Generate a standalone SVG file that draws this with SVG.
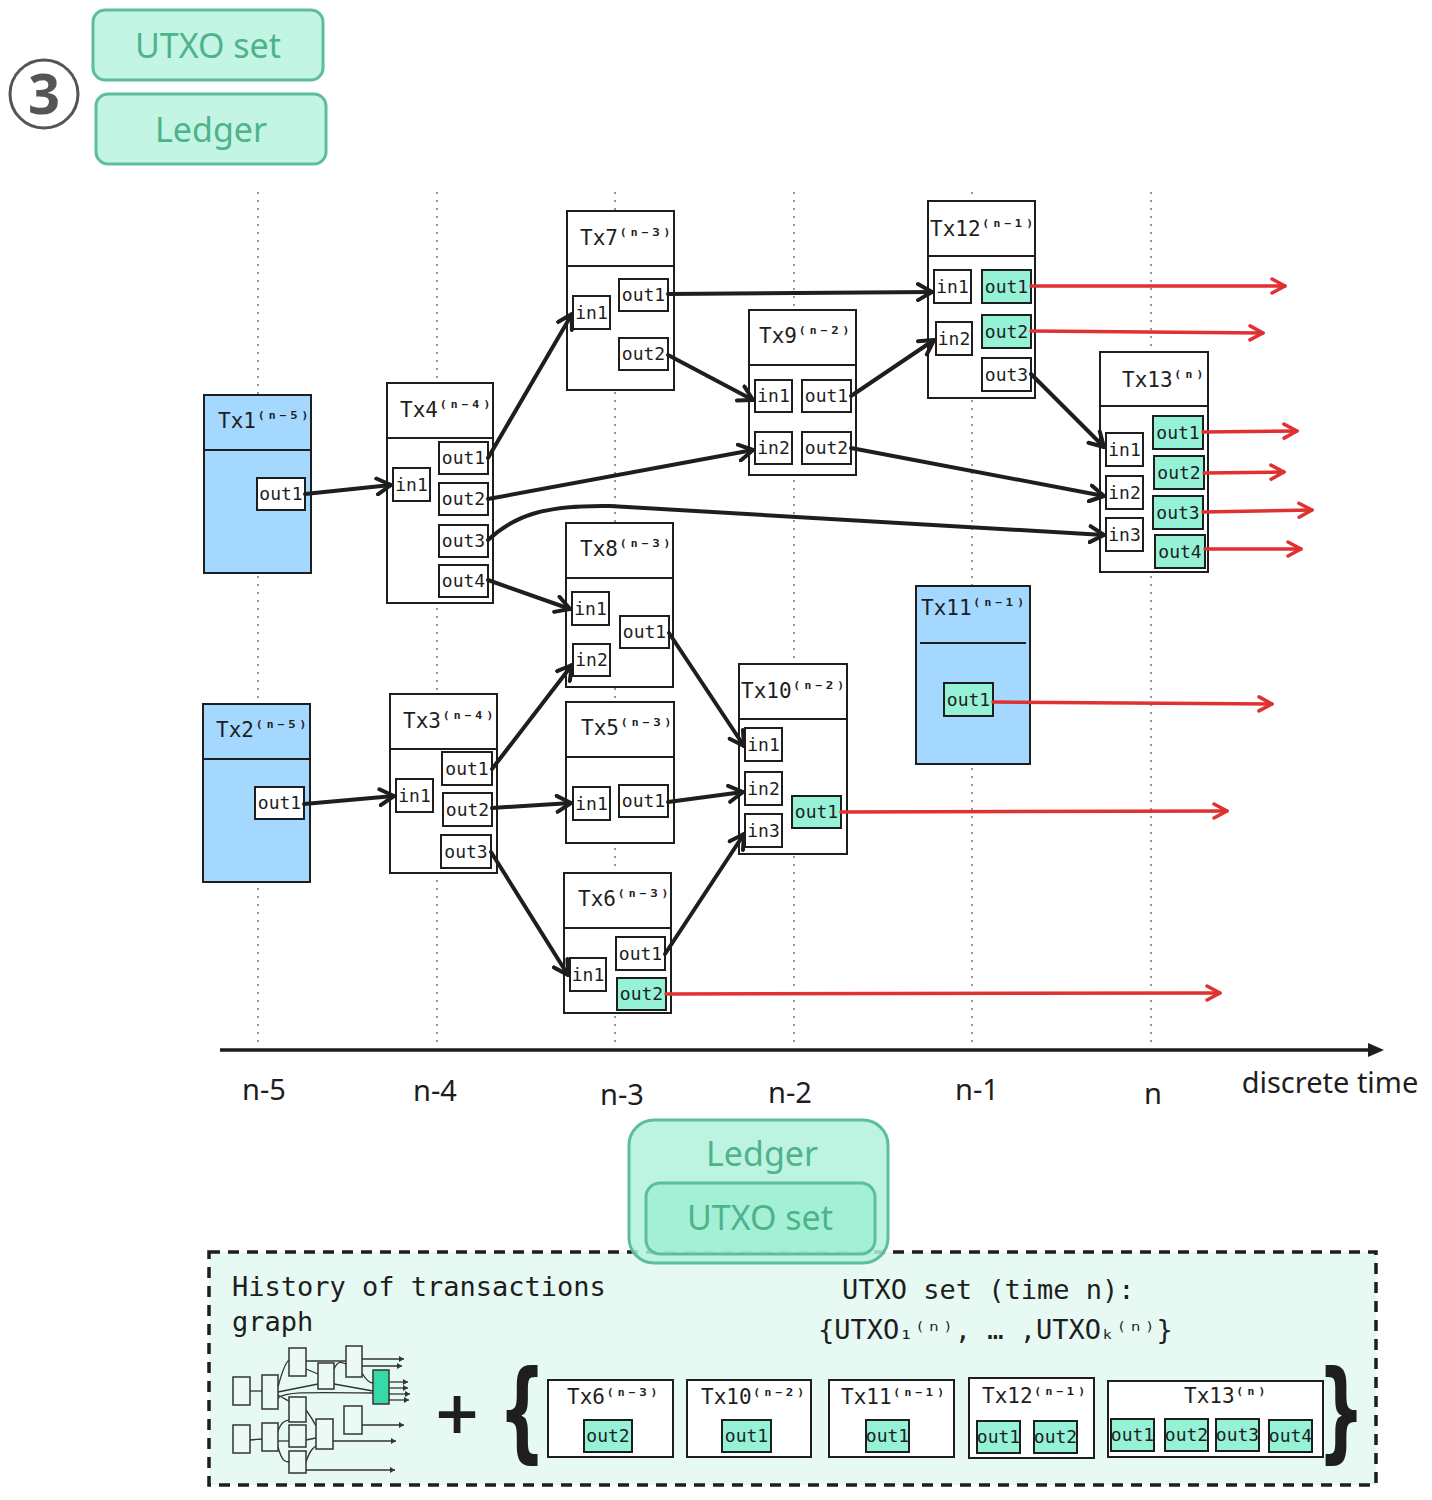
<svg xmlns="http://www.w3.org/2000/svg" width="1432" height="1500" viewBox="0 0 1432 1500">
<style>
.tx{fill:#ffffff;stroke:#1e1e1e;stroke-width:2}
.blue{fill:#a5d8ff;stroke:#1e1e1e;stroke-width:2}
.div{stroke:#1e1e1e;stroke-width:2}
.port{fill:#ffffff;stroke:#1e1e1e;stroke-width:2}
.green{fill:#96f2d7;stroke:#1e1e1e;stroke-width:2}
.ttl{font-family:"DejaVu Sans Mono",monospace;font-size:21px;fill:#1e1e1e}
.sup{font-size:18px;font-weight:bold}
.pl{font-family:"DejaVu Sans Mono",monospace;font-size:18px;fill:#1e1e1e;text-anchor:middle}
.wire{fill:none;stroke:#1e1e1e;stroke-width:4;stroke-linecap:round}
.red{fill:none;stroke:#e03131;stroke-width:3.5;stroke-linecap:round}
.grid{stroke:#777;stroke-width:1.5;stroke-dasharray:2 6}
.hand{font-family:"Noto Sans",sans-serif;fill:#4fb38a;text-anchor:middle}
.axl{font-family:"Noto Sans",sans-serif;font-size:29px;fill:#1e1e1e;text-anchor:middle}
.big{font-family:"DejaVu Sans Mono",monospace;font-size:27px;fill:#1e1e1e}
.mini{fill:#ebfaf4;stroke:#333;stroke-width:1.5}
.ml{fill:none;stroke:#333;stroke-width:1.3}
.brace{font-family:"DejaVu Sans",sans-serif;font-size:108px;font-weight:bold;fill:#1e1e1e;text-anchor:middle}
</style>
<defs>
<marker id="ab" viewBox="-16 -10 18 20" refX="0" refY="0" markerWidth="18" markerHeight="20" markerUnits="userSpaceOnUse" orient="auto">
<path d="M-14,-8 L0,0 L-14,8" fill="none" stroke="#1e1e1e" stroke-width="4" stroke-linecap="round" stroke-linejoin="round"/>
</marker>
<marker id="ar" viewBox="-16 -10 18 20" refX="0" refY="0" markerWidth="18" markerHeight="20" markerUnits="userSpaceOnUse" orient="auto">
<path d="M-13,-7 L0,0 L-13,7" fill="none" stroke="#e03131" stroke-width="3.5" stroke-linecap="round" stroke-linejoin="round"/>
</marker>
<marker id="am" viewBox="-6 -4 7 8" refX="0" refY="0" markerWidth="7" markerHeight="8" markerUnits="userSpaceOnUse" orient="auto">
<path d="M-5,-3 L0,0 L-5,3 Z" fill="#333"/>
</marker>
</defs>

<!-- time grid -->
<g id="grid">
<line class="grid" x1="258" y1="192" x2="258" y2="1048"/>
<line class="grid" x1="437" y1="192" x2="437" y2="1048"/>
<line class="grid" x1="615" y1="192" x2="615" y2="1048"/>
<line class="grid" x1="794" y1="192" x2="794" y2="1048"/>
<line class="grid" x1="972" y1="192" x2="972" y2="1048"/>
<line class="grid" x1="1151" y1="192" x2="1151" y2="1048"/>
</g>

<!-- legend top-left -->
<g id="step3">
<circle cx="44" cy="94" r="34" fill="none" stroke="#555" stroke-width="3"/>
<text x="44" y="114" font-family="Noto Sans,sans-serif" font-size="56" font-weight="bold" fill="#555" text-anchor="middle">3</text>
</g>
<g id="legend-utxo">
<rect x="93" y="10" width="230" height="70" rx="12" fill="#c3f5e5" stroke="#5cbf99" stroke-width="3"/>
<text class="hand" x="208" y="58" font-size="34">UTXO set</text>
</g>
<g id="legend-ledger">
<rect x="96" y="94" width="230" height="70" rx="12" fill="#c3f5e5" stroke="#5cbf99" stroke-width="3"/>
<text class="hand" x="211" y="142" font-size="34">Ledger</text>
</g>

<!-- axis -->
<g id="axis">
<line x1="220" y1="1050" x2="1378" y2="1050" stroke="#1e1e1e" stroke-width="3.5"/>
<path d="M1368,1043 L1384,1050 L1368,1057 Z" fill="#1e1e1e"/>
<text class="axl" x="264" y="1100">n-5</text>
<text class="axl" x="435" y="1101">n-4</text>
<text class="axl" x="622" y="1105">n-3</text>
<text class="axl" x="790" y="1103">n-2</text>
<text class="axl" x="977" y="1100">n-1</text>
<text class="axl" x="1153" y="1104" font-size="50">n</text>
<text class="axl" x="1330" y="1093" font-size="26">discrete time</text>
</g>

<!-- Tx1 -->
<g id="tx1">
<rect class="blue" x="204" y="395" width="107" height="178"/>
<line class="div" x1="204" y1="450" x2="311" y2="450"/>
<text class="ttl" x="218" y="428">Tx1<tspan class="sup" dy="-3">⁽ⁿ⁻⁵⁾</tspan></text>
<rect class="port" x="257" y="478" width="48" height="32"/><text class="pl" x="281" y="500">out1</text>
</g>
<!-- Tx2 -->
<g id="tx2">
<rect class="blue" x="203" y="704" width="107" height="178"/>
<line class="div" x1="203" y1="759" x2="310" y2="759"/>
<text class="ttl" x="216" y="737">Tx2<tspan class="sup" dy="-3">⁽ⁿ⁻⁵⁾</tspan></text>
<rect class="port" x="255" y="787" width="49" height="32"/><text class="pl" x="279.5" y="809">out1</text>
</g>
<!-- Tx4 -->
<g id="tx4">
<rect class="tx" x="387" y="383" width="106" height="220"/>
<line class="div" x1="387" y1="438" x2="493" y2="438"/>
<text class="ttl" x="400" y="417">Tx4<tspan class="sup" dy="-3">⁽ⁿ⁻⁴⁾</tspan></text>
<rect class="port" x="393" y="468" width="37" height="33"/><text class="pl" x="411.5" y="491">in1</text>
<rect class="port" x="439" y="442" width="49" height="32"/><text class="pl" x="463.5" y="464">out1</text>
<rect class="port" x="439" y="483" width="49" height="32"/><text class="pl" x="463.5" y="505">out2</text>
<rect class="port" x="439" y="525" width="49" height="32"/><text class="pl" x="463.5" y="547">out3</text>
<rect class="port" x="439" y="565" width="49" height="32"/><text class="pl" x="463.5" y="587">out4</text>
</g>
<!-- Tx3 -->
<g id="tx3">
<rect class="tx" x="390" y="694" width="107" height="179"/>
<line class="div" x1="390" y1="749" x2="497" y2="749"/>
<text class="ttl" x="403" y="728">Tx3<tspan class="sup" dy="-3">⁽ⁿ⁻⁴⁾</tspan></text>
<rect class="port" x="396" y="779" width="37" height="33"/><text class="pl" x="414.5" y="802">in1</text>
<rect class="port" x="442" y="752" width="50" height="33"/><text class="pl" x="467" y="775">out1</text>
<rect class="port" x="443" y="793" width="49" height="33"/><text class="pl" x="467.5" y="816">out2</text>
<rect class="port" x="441" y="835" width="50" height="33"/><text class="pl" x="466" y="858">out3</text>
</g>
<!-- Tx7 -->
<g id="tx7">
<rect class="tx" x="567" y="211" width="107" height="179"/>
<line class="div" x1="567" y1="266" x2="674" y2="266"/>
<text class="ttl" x="580" y="245">Tx7<tspan class="sup" dy="-3">⁽ⁿ⁻³⁾</tspan></text>
<rect class="port" x="573" y="296" width="37" height="33"/><text class="pl" x="591.5" y="319">in1</text>
<rect class="port" x="619" y="279" width="49" height="32"/><text class="pl" x="643.5" y="301">out1</text>
<rect class="port" x="619" y="338" width="49" height="32"/><text class="pl" x="643.5" y="360">out2</text>
</g>
<!-- Tx8 -->
<g id="tx8">
<rect class="tx" x="566" y="523" width="107" height="164"/>
<line class="div" x1="566" y1="578" x2="673" y2="578"/>
<text class="ttl" x="580" y="556">Tx8<tspan class="sup" dy="-3">⁽ⁿ⁻³⁾</tspan></text>
<rect class="port" x="572" y="592" width="37" height="33"/><text class="pl" x="590.5" y="615">in1</text>
<rect class="port" x="573" y="644" width="37" height="32"/><text class="pl" x="591.5" y="666">in2</text>
<rect class="port" x="620" y="616" width="49" height="32"/><text class="pl" x="644.5" y="638">out1</text>
</g>
<!-- Tx5 -->
<g id="tx5">
<rect class="tx" x="566" y="702" width="108" height="141"/>
<line class="div" x1="566" y1="757" x2="674" y2="757"/>
<text class="ttl" x="581" y="735">Tx5<tspan class="sup" dy="-3">⁽ⁿ⁻³⁾</tspan></text>
<rect class="port" x="573" y="787" width="37" height="33"/><text class="pl" x="591.5" y="810">in1</text>
<rect class="port" x="619" y="785" width="49" height="32"/><text class="pl" x="643.5" y="807">out1</text>
</g>
<!-- Tx6 -->
<g id="tx6">
<rect class="tx" x="564" y="873" width="107" height="140"/>
<line class="div" x1="564" y1="928" x2="671" y2="928"/>
<text class="ttl" x="578" y="906">Tx6<tspan class="sup" dy="-3">⁽ⁿ⁻³⁾</tspan></text>
<rect class="port" x="570" y="958" width="36" height="33"/><text class="pl" x="588" y="981">in1</text>
<rect class="port" x="616" y="937" width="49" height="33"/><text class="pl" x="640.5" y="960">out1</text>
<rect class="green" x="617" y="978" width="49" height="32"/><text class="pl" x="641.5" y="1000">out2</text>
</g>
<!-- Tx9 -->
<g id="tx9">
<rect class="tx" x="749" y="310" width="107" height="165"/>
<line class="div" x1="749" y1="365" x2="856" y2="365"/>
<text class="ttl" x="759" y="343">Tx9<tspan class="sup" dy="-3">⁽ⁿ⁻²⁾</tspan></text>
<rect class="port" x="755" y="380" width="37" height="32"/><text class="pl" x="773.5" y="402">in1</text>
<rect class="port" x="802" y="380" width="49" height="32"/><text class="pl" x="826.5" y="402">out1</text>
<rect class="port" x="755" y="432" width="37" height="32"/><text class="pl" x="773.5" y="454">in2</text>
<rect class="port" x="802" y="432" width="49" height="32"/><text class="pl" x="826.5" y="454">out2</text>
</g>
<!-- Tx10 -->
<g id="tx10">
<rect class="tx" x="739" y="664" width="108" height="190"/>
<line class="div" x1="739" y1="719" x2="847" y2="719"/>
<text class="ttl" x="741" y="698">Tx10<tspan class="sup" dy="-3">⁽ⁿ⁻²⁾</tspan></text>
<rect class="port" x="745" y="728" width="37" height="33"/><text class="pl" x="763.5" y="751">in1</text>
<rect class="port" x="745" y="772" width="37" height="33"/><text class="pl" x="763.5" y="795">in2</text>
<rect class="port" x="745" y="814" width="37" height="33"/><text class="pl" x="763.5" y="837">in3</text>
<rect class="green" x="792" y="796" width="49" height="32"/><text class="pl" x="816.5" y="818">out1</text>
</g>
<!-- Tx12 -->
<g id="tx12">
<rect class="tx" x="928" y="201" width="107" height="197"/>
<line class="div" x1="928" y1="256" x2="1035" y2="256"/>
<text class="ttl" x="930" y="236">Tx12<tspan class="sup" dy="-3">⁽ⁿ⁻¹⁾</tspan></text>
<rect class="port" x="934" y="270" width="37" height="33"/><text class="pl" x="952.5" y="293">in1</text>
<rect class="green" x="982" y="270" width="49" height="33"/><text class="pl" x="1006.5" y="293">out1</text>
<rect class="port" x="936" y="322" width="36" height="33"/><text class="pl" x="954" y="345">in2</text>
<rect class="green" x="982" y="315" width="49" height="33"/><text class="pl" x="1006.5" y="338">out2</text>
<rect class="port" x="982" y="358" width="49" height="33"/><text class="pl" x="1006.5" y="381">out3</text>
</g>
<!-- Tx13 -->
<g id="tx13">
<rect class="tx" x="1100" y="352" width="108" height="220"/>
<line class="div" x1="1100" y1="406" x2="1208" y2="406"/>
<text class="ttl" x="1122" y="387">Tx13<tspan class="sup" dy="-3">⁽ⁿ⁾</tspan></text>
<rect class="port" x="1106" y="433" width="37" height="33"/><text class="pl" x="1124.5" y="456">in1</text>
<rect class="port" x="1106" y="476" width="37" height="33"/><text class="pl" x="1124.5" y="499">in2</text>
<rect class="port" x="1106" y="518" width="37" height="33"/><text class="pl" x="1124.5" y="541">in3</text>
<rect class="green" x="1153" y="416" width="50" height="33"/><text class="pl" x="1178" y="439">out1</text>
<rect class="green" x="1154" y="456" width="50" height="33"/><text class="pl" x="1179" y="479">out2</text>
<rect class="green" x="1153" y="496" width="50" height="33"/><text class="pl" x="1178" y="519">out3</text>
<rect class="green" x="1155" y="535" width="50" height="33"/><text class="pl" x="1180" y="558">out4</text>
</g>
<!-- Tx11 -->
<g id="tx11">
<rect class="blue" x="916" y="586" width="114" height="178"/>
<line class="div" x1="920" y1="643" x2="1026" y2="643"/>
<text class="ttl" x="921" y="615">Tx11<tspan class="sup" dy="-3">⁽ⁿ⁻¹⁾</tspan></text>
<rect class="green" x="944" y="683" width="49" height="33"/><text class="pl" x="968.5" y="706">out1</text>
</g>

<!-- connectors -->
<g id="connectors">
<line class="wire" x1="305" y1="494" x2="391" y2="485" marker-end="url(#ab)"/>
<line class="wire" x1="488" y1="458" x2="572" y2="314" marker-end="url(#ab)"/>
<line class="wire" x1="488" y1="499" x2="753" y2="450" marker-end="url(#ab)"/>
<path class="wire" d="M488,540 C515,515 545,505 610,506 L1104,535" marker-end="url(#ab)"/>
<line class="wire" x1="488" y1="580" x2="570" y2="609" marker-end="url(#ab)"/>
<line class="wire" x1="668" y1="294" x2="932" y2="292" marker-end="url(#ab)"/>
<line class="wire" x1="668" y1="355" x2="753" y2="400" marker-end="url(#ab)"/>
<line class="wire" x1="851" y1="396" x2="934" y2="340" marker-end="url(#ab)"/>
<line class="wire" x1="851" y1="448" x2="1104" y2="496" marker-end="url(#ab)"/>
<line class="wire" x1="1031" y1="374" x2="1104" y2="447" marker-end="url(#ab)"/>
<line class="wire" x1="304" y1="804" x2="394" y2="796" marker-end="url(#ab)"/>
<line class="wire" x1="492" y1="769" x2="572" y2="665" marker-end="url(#ab)"/>
<line class="wire" x1="492" y1="808" x2="571" y2="803" marker-end="url(#ab)"/>
<line class="wire" x1="491" y1="852" x2="568" y2="975" marker-end="url(#ab)"/>
<line class="wire" x1="669" y1="633" x2="744" y2="746" marker-end="url(#ab)"/>
<line class="wire" x1="668" y1="802" x2="743" y2="792" marker-end="url(#ab)"/>
<line class="wire" x1="665" y1="954" x2="744" y2="834" marker-end="url(#ab)"/>
<line class="red" x1="1031" y1="286" x2="1285" y2="286" marker-end="url(#ar)"/>
<line class="red" x1="1031" y1="331" x2="1263" y2="333" marker-end="url(#ar)"/>
<line class="red" x1="1203" y1="432" x2="1297" y2="431" marker-end="url(#ar)"/>
<line class="red" x1="1204" y1="473" x2="1284" y2="472" marker-end="url(#ar)"/>
<line class="red" x1="1203" y1="512" x2="1312" y2="510" marker-end="url(#ar)"/>
<line class="red" x1="1205" y1="549" x2="1301" y2="549" marker-end="url(#ar)"/>
<line class="red" x1="993" y1="702" x2="1272" y2="704" marker-end="url(#ar)"/>
<line class="red" x1="841" y1="812" x2="1227" y2="811" marker-end="url(#ar)"/>
<line class="red" x1="666" y1="994" x2="1220" y2="993" marker-end="url(#ar)"/>
</g>

<!-- bottom panel -->
<g id="summary">
<rect x="209" y="1252" width="1167" height="233" fill="#e6faf3" stroke="#1e1e1e" stroke-width="3.5" stroke-dasharray="11 8"/>
<text class="big" x="232" y="1296">History of transactions</text>
<text class="big" x="232" y="1331">graph</text>
<text class="big" x="842" y="1299">UTXO set (time n):</text>
<text class="big" x="818" y="1339" font-size="26">{UTXO<tspan font-size="23">₁⁽ⁿ⁾</tspan>, … ,UTXO<tspan font-size="23">ₖ⁽ⁿ⁾</tspan>}</text>
<text x="457" y="1433" font-family="DejaVu Sans,sans-serif" font-size="58" font-weight="bold" fill="#1e1e1e" text-anchor="middle">+</text>
<text class="brace" transform="translate(522,1448) scale(0.62,1)">{</text>
<text class="brace" transform="translate(1341,1448) scale(0.62,1)">}</text>
</g>

<g id="mini-graph">
<path class="ml" d="M250,1391 L262,1391"/>
<path class="ml" d="M278,1387 C282,1372 286,1362 289,1360"/>
<path class="ml" d="M278,1392 L318,1384"/>
<path class="ml" d="M278,1395 C284,1398 286,1400 289,1401"/>
<path class="ml" d="M278,1398 C285,1392 300,1392 373,1393"/>
<path class="ml" d="M306,1361 L346,1361"/>
<path class="ml" d="M306,1369 L318,1374"/>
<path class="ml" d="M334,1369 C338,1360 342,1362 346,1364"/>
<path class="ml" d="M334,1384 L373,1391"/>
<path class="ml" d="M362,1373 C366,1380 370,1383 373,1383"/>
<path class="ml" d="M250,1440 L262,1439"/>
<path class="ml" d="M278,1431 C282,1420 286,1421 289,1420"/>
<path class="ml" d="M278,1441 L289,1441"/>
<path class="ml" d="M278,1447 C282,1462 286,1462 289,1462"/>
<path class="ml" d="M306,1410 C312,1418 314,1422 316,1426"/>
<path class="ml" d="M306,1440 L316,1438"/>
<path class="ml" d="M306,1462 C310,1450 313,1448 316,1446"/>
<path class="ml" d="M362,1359 L404,1359" marker-end="url(#am)"/>
<path class="ml" d="M362,1366 L402,1366" marker-end="url(#am)"/>
<path class="ml" d="M389,1382 L408,1382" marker-end="url(#am)"/>
<path class="ml" d="M389,1388 L408,1388" marker-end="url(#am)"/>
<path class="ml" d="M389,1394 L410,1394" marker-end="url(#am)"/>
<path class="ml" d="M389,1400 L409,1400" marker-end="url(#am)"/>
<path class="ml" d="M362,1425 L404,1425" marker-end="url(#am)"/>
<path class="ml" d="M333,1441 L396,1441" marker-end="url(#am)"/>
<path class="ml" d="M306,1470 L395,1470" marker-end="url(#am)"/>
<rect class="mini" x="233" y="1377" width="17" height="28"/>
<rect class="mini" x="262" y="1375" width="16" height="34"/>
<rect class="mini" x="289" y="1348" width="17" height="28"/>
<rect class="mini" x="318" y="1363" width="16" height="26"/>
<rect class="mini" x="346" y="1346" width="16" height="31"/>
<rect x="373" y="1370" width="16" height="34" fill="#38d9a9" stroke="#333" stroke-width="1.5"/>
<rect class="mini" x="289" y="1397" width="17" height="25"/>
<rect class="mini" x="233" y="1425" width="17" height="28"/>
<rect class="mini" x="262" y="1423" width="16" height="28"/>
<rect class="mini" x="289" y="1425" width="17" height="22"/>
<rect class="mini" x="316" y="1419" width="17" height="30"/>
<rect class="mini" x="344" y="1406" width="18" height="28"/>
<rect class="mini" x="289" y="1451" width="17" height="22"/>
</g>

<g id="s-tx6">
<rect class="tx" x="548" y="1380" width="125" height="77"/>
<text class="ttl" x="567" y="1404" font-size="20">Tx6<tspan class="sup" dy="-2" font-size="16">⁽ⁿ⁻³⁾</tspan></text>
<rect class="green" x="584" y="1420" width="48" height="32"/><text class="pl" x="608" y="1442">out2</text>
</g>
<g id="s-tx10">
<rect class="tx" x="687" y="1380" width="124" height="77"/>
<text class="ttl" x="701" y="1404" font-size="20">Tx10<tspan class="sup" dy="-2" font-size="16">⁽ⁿ⁻²⁾</tspan></text>
<rect class="green" x="722" y="1420" width="49" height="32"/><text class="pl" x="746.5" y="1442">out1</text>
</g>
<g id="s-tx11">
<rect class="tx" x="829" y="1380" width="125" height="77"/>
<text class="ttl" x="841" y="1404" font-size="20">Tx11<tspan class="sup" dy="-2" font-size="16">⁽ⁿ⁻¹⁾</tspan></text>
<rect class="green" x="866" y="1420" width="43" height="32"/><text class="pl" x="887.5" y="1442">out1</text>
</g>
<g id="s-tx12">
<rect class="tx" x="969" y="1378" width="125" height="80"/>
<text class="ttl" x="982" y="1403" font-size="20">Tx12<tspan class="sup" dy="-2" font-size="16">⁽ⁿ⁻¹⁾</tspan></text>
<rect class="green" x="977" y="1421" width="43" height="32"/><text class="pl" x="998.5" y="1443">out1</text>
<rect class="green" x="1034" y="1421" width="43" height="32"/><text class="pl" x="1055.5" y="1443">out2</text>
</g>
<g id="s-tx13">
<rect class="tx" x="1108" y="1381" width="215" height="76"/>
<text class="ttl" x="1184" y="1403" font-size="20">Tx13<tspan class="sup" dy="-2" font-size="16">⁽ⁿ⁾</tspan></text>
<rect class="green" x="1111" y="1419" width="43" height="32"/><text class="pl" x="1132.5" y="1441">out1</text>
<rect class="green" x="1165" y="1419" width="43" height="32"/><text class="pl" x="1186.5" y="1441">out2</text>
<rect class="green" x="1216" y="1419" width="43" height="32"/><text class="pl" x="1237.5" y="1441">out3</text>
<rect class="green" x="1269" y="1420" width="43" height="32"/><text class="pl" x="1290.5" y="1442">out4</text>
</g>

<!-- ledger overlay -->
<g id="ledger">
<rect x="629" y="1120" width="259" height="143" rx="25" fill="#b2f2dc" fill-opacity="0.85" stroke="#5cbf99" stroke-width="3"/>
<text class="hand" x="762" y="1166" font-size="34">Ledger</text>
</g>
<g id="utxo-set">
<rect x="646" y="1183" width="229" height="71" rx="14" fill="#9eefd4" fill-opacity="0.8" stroke="#5cbf99" stroke-width="3"/>
<text class="hand" x="760" y="1230" font-size="34">UTXO set</text>
</g>
</svg>
